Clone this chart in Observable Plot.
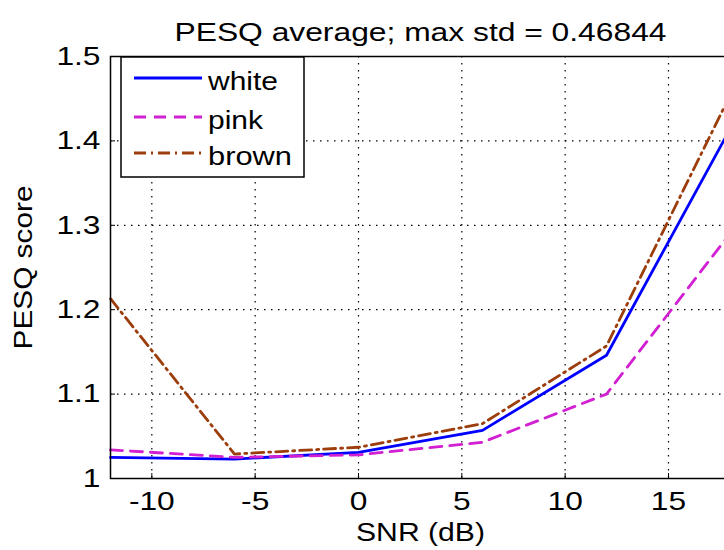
<!DOCTYPE html>
<html><head><meta charset="utf-8">
<script src="https://cdn.jsdelivr.net/npm/d3@7"></script>
<script src="https://cdn.jsdelivr.net/npm/@observablehq/plot@0.6"></script>
<style>
html,body{margin:0;padding:0;background:#fff;overflow:hidden;width:724px;height:550px}
#chart{position:relative;width:732px;height:550px}
</style></head>
<body><div id="chart"></div>
<script>
const snr = [-12, -6, 0, 6, 12, 18];
const white = [1.025, 1.023, 1.031, 1.057, 1.146, 1.415];
const pink = [1.034, 1.025, 1.028, 1.043, 1.100, 1.291];
const brown = [1.213, 1.029, 1.037, 1.065, 1.157, 1.455];
const seriesNames = ["white", "pink", "brown"];
const xTicks = [-10, -5, 0, 5, 10, 15];
const xTickLabels = ["-10", "-5", "0", "5", "10", "15"];
const yTicks = [1, 1.1, 1.2, 1.3, 1.4, 1.5];
const yTickLabels = ["1", "1.1", "1.2", "1.3", "1.4", "1.5"];
const titleText = "PESQ average; max std = 0.46844";
const xLabel = "SNR (dB)";
const yLabel = "PESQ score";

const styles = {
  white: {stroke: "#0000ff", dash: null, width: 2.8},
  pink: {stroke: "#d21fd2", dash: "12,8", width: 2.8},
  brown: {stroke: "#9c3d0c", dash: "12,5,2,5", width: 2.8}
};
const values = {white, pink, brown};
const rows = seriesNames.flatMap(s => snr.map((x, i) => ({s, x, y: values[s][i]})));

const font = "'Liberation Sans', Arial, sans-serif";
const fs = 26;
const plot = Plot.plot({
  width: 732, height: 550,
  marginLeft: 110, marginRight: 2, marginTop: 56, marginBottom: 72,
  style: {fontFamily: font, fontSize: fs + "px", color: "#000", background: "transparent"},
  x: {domain: [-12, 18]},
  y: {domain: [1, 1.5]},
  marks: [
    Plot.gridX(xTicks, {stroke: "#000", strokeOpacity: 1, strokeDasharray: "1.5,5.5", strokeWidth: 1.2}),
    Plot.gridY(yTicks, {stroke: "#000", strokeOpacity: 1, strokeDasharray: "1.5,5.5", strokeWidth: 1.2}),
    Plot.axisX(xTicks, {tickSize: -5, tickPadding: 18, tickFormat: (d, i) => xTickLabels[i], label: xLabel, labelAnchor: "center", labelOffset: 62, labelArrow: "none", fontSize: fs}),
    Plot.axisY(yTicks, {tickSize: -5, tickPadding: 15, tickFormat: (d, i) => yTickLabels[i], label: yLabel, labelAnchor: "center", labelOffset: 97, labelArrow: "none", fontSize: fs}),
    ...seriesNames.map(s => Plot.line(rows.filter(r => r.s === s), {
      x: "x", y: "y", stroke: styles[s].stroke, strokeWidth: styles[s].width,
      strokeDasharray: styles[s].dash, strokeLinejoin: "miter"
    })),
    Plot.frame({stroke: "#000", strokeWidth: 1.5}),
    Plot.text([titleText], {frameAnchor: "top", dy: -34, fontSize: fs, fill: "#000", text: d => d})
  ]
});
document.getElementById("chart").appendChild(plot);

// legend
const svg = d3.select(plot);
const lg = svg.append("g").attr("text-anchor", "start");
lg.append("rect").attr("x", 121).attr("y", 57).attr("width", 183).attr("height", 120)
  .attr("fill", "#fff").attr("stroke", "#000").attr("stroke-width", 1.5);
const legendY = [78, 117, 153];
const legendW = [70, 55, 84];
seriesNames.forEach((s, i) => {
  lg.append("line").attr("x1", 134).attr("x2", 202).attr("y1", legendY[i]).attr("y2", legendY[i])
    .attr("stroke", styles[s].stroke).attr("stroke-width", styles[s].width)
    .attr("stroke-dasharray", styles[s].dash);
  lg.append("text").attr("x", 208).attr("y", legendY[i] + 12)
    .attr("font-size", fs).attr("font-family", font).attr("fill", "#000")
    .attr("textLength", legendW[i]).attr("lengthAdjust", "spacingAndGlyphs").text(s);
});

// widen text horizontally to match the reference's wide bitmap font
function stretch(sel, f, fixed) {
  sel.each(function() {
    const len = this.getComputedTextLength();
    this.setAttribute("textLength", fixed || len * f);
    this.setAttribute("lengthAdjust", "spacingAndGlyphs");
  });
}
stretch(svg.selectAll('g[aria-label="x-axis tick label"] text'), 1.22);
stretch(svg.selectAll('g[aria-label="y-axis tick label"] text'), 1.22);
stretch(svg.selectAll('g[aria-label="x-axis label"] text'), 1, 129);
stretch(svg.selectAll('g[aria-label="y-axis label"] text'), 1, 164);
stretch(svg.selectAll('g[aria-label="text"] text'), 1, 492);
</script></body></html>
